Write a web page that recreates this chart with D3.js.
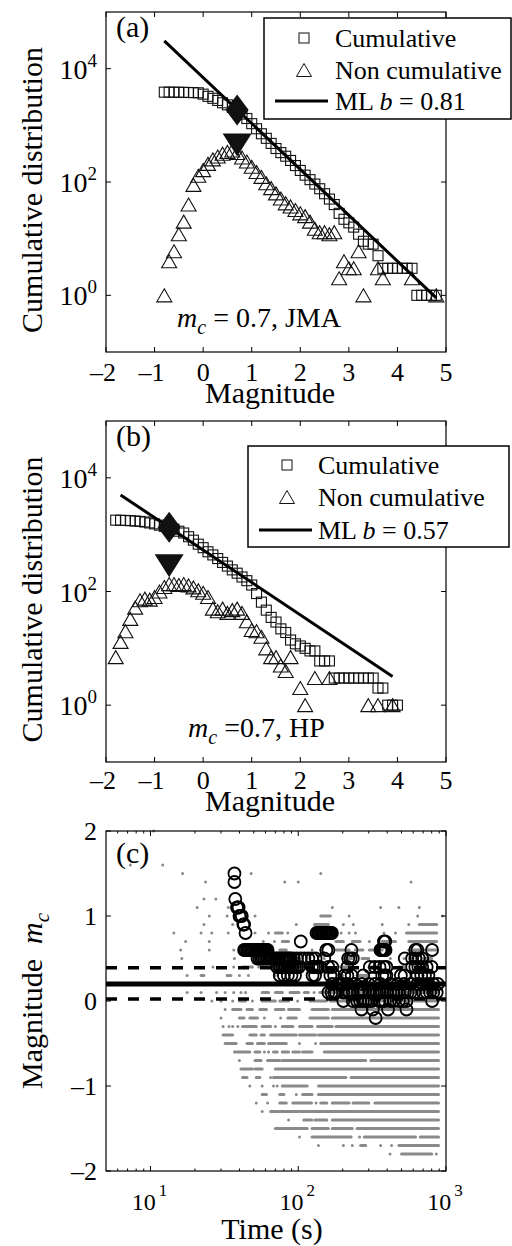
<!DOCTYPE html>
<html><head><meta charset="utf-8">
<script src="https://cdn.jsdelivr.net/npm/d3@7"></script>
<style>
body{margin:0;background:#fff}
svg{display:block}
</style>
</head><body><svg id="fig" width="512" height="1246" font-family="Liberation Serif, Times New Roman, Tinos, DejaVu Serif, serif"></svg>
<script>
// ---------------- DATA ----------------
// Panel (a) JMA: magnitude bins, cumulative counts
const cumA = [[-0.8,3850],[-0.7,3850],[-0.6,3840],[-0.5,3830],[-0.4,3820],[-0.3,3800],[-0.2,3780],[-0.1,3750],[0.0,3550],[0.1,3250],[0.2,3000],[0.3,2750],[0.4,2500],[0.5,2300],[0.6,2080],[0.7,1870],[0.8,1580],[0.9,1320],[1.0,1070],[1.1,870],[1.2,710],[1.3,590],[1.4,480],[1.5,390],[1.6,330],[1.7,285],[1.8,240],[1.9,195],[2.0,160],[2.1,132],[2.2,110],[2.3,92],[2.4,76],[2.5,62],[2.6,50],[2.7,40],[2.8,28],[2.9,22],[3.0,19],[3.1,16],[3.2,12],[3.3,9],[3.4,8],[3.5,8],[3.6,5],[3.7,3],[3.8,3],[3.9,3],[4.0,3],[4.1,3],[4.2,3],[4.3,3],[4.4,1],[4.5,1],[4.6,1],[4.7,1],[4.8,1]];
// Panel (a) non-cumulative counts
const nonA = [[-0.8,1],[-0.7,4],[-0.6,6],[-0.5,12],[-0.4,20],[-0.3,40],[-0.2,89],[-0.1,129],[0.0,162],[0.1,209],[0.2,251],[0.3,282],[0.4,316],[0.5,339],[0.6,360],[0.7,324],[0.8,270],[0.9,230],[1.0,186],[1.1,150],[1.2,123],[1.3,95],[1.4,78],[1.5,63],[1.6,51],[1.7,42],[1.8,37],[1.9,32],[2.0,28],[2.1,25],[2.2,20],[2.3,15],[2.4,13],[2.5,13],[2.6,12],[2.7,13],[2.8,2],[2.9,4],[3.0,3],[3.1,3],[3.2,6],[3.3,1],[3.6,3],[3.7,2],[4.3,2],[4.8,1]];
const mlLineA = [[-0.8,31000],[4.8,0.9]];
const mcMarkA = [0.7,1870];
const peakMarkA = [0.7,450];
const bValueA = "0.81";

// Panel (b) HP
const cumB = [[-1.8,1800],[-1.7,1790],[-1.6,1780],[-1.5,1760],[-1.4,1740],[-1.3,1710],[-1.2,1670],[-1.1,1610],[-1.0,1550],[-0.9,1470],[-0.8,1400],[-0.7,1340],[-0.6,1250],[-0.5,1150],[-0.4,1070],[-0.3,920],[-0.2,800],[-0.1,680],[0.0,590],[0.1,500],[0.2,440],[0.3,380],[0.4,325],[0.5,280],[0.6,240],[0.7,210],[0.8,180],[0.9,155],[1.0,130],[1.1,92],[1.2,65],[1.3,47],[1.4,35],[1.5,29],[1.6,22],[1.7,19],[1.8,14],[1.9,12],[2.0,11],[2.1,10],[2.2,9],[2.3,9],[2.4,6],[2.5,6],[2.6,6],[2.7,3],[2.8,3],[2.9,3],[3.0,3],[3.1,3],[3.2,3],[3.3,3],[3.4,3],[3.5,3],[3.6,2],[3.7,2],[3.8,1],[3.9,1],[4.0,1]];
const nonB = [[-1.8,7],[-1.7,13],[-1.6,20],[-1.5,33],[-1.4,52],[-1.3,70],[-1.2,75],[-1.1,72],[-1.0,80],[-0.9,100],[-0.8,120],[-0.7,135],[-0.6,135],[-0.5,130],[-0.4,135],[-0.3,128],[-0.2,118],[-0.1,105],[0.0,95],[0.1,80],[0.2,50],[0.3,45],[0.4,50],[0.5,42],[0.6,47],[0.7,50],[0.8,42],[0.9,30],[1.0,21],[1.1,20],[1.2,16],[1.3,10],[1.4,7],[1.5,7],[1.6,5],[1.7,4],[1.8,7],[2.0,2],[2.1,1],[2.3,3],[2.6,3],[3.4,1],[3.6,1],[3.9,1]];
const mlLineB = [[-1.7,5000],[3.9,3.2]];
const mcMarkB = [-0.7,1350];
const peakMarkB = [-0.7,285];
const bValueB = "0.57";

// axis ticks
const magTicks = [-2,-1,0,1,2,3,4,5];
const magTickLabels = ["\u20132","\u20131","0","1","2","3","4","5"];
const countTicks = [1,100,10000];
const countTickExp = ["0","2","4"];
const mcTicks = [-2,-1,0,1,2];
const mcTickLabels = ["\u20132","\u20131","0","1","2"];
const timeTicks = [10,100,1000];
const timeTickExp = ["1","2","3"];
const timeMinor = [6,7,8,9,20,30,40,50,60,70,80,90,200,300,400,500,600,700,800,900];

// Panel (c): grey events [magnitude, t0 (s), t1 (s) for a dense run]
const greyEvents = [
[2.0,10.5],
[1.6,7.3],[1.6,12.1],
[1.5,16.5],[1.5,48],[1.5,142],
[1.4,23.6],[1.4,81],[1.4,100],[1.4,580],
[1.2,23],[1.2,27.7],
[1.1,20.7],[1.1,33.6],[1.1,170],[1.1,361],[1.1,480],[1.1,660],
[1.0,25],[1.0,33],[1.0,37],[1.0,51],[1.0,142,165],[1.0,221],[1.0,643],[1.0,950],
[0.9,23],[0.9,36],[0.9,97],[0.9,129,160],[0.9,202],[0.9,236],[0.9,370],[0.9,560],[0.9,660,865],
[0.8,14.4],[0.8,22],[0.8,26],[0.8,33.6],[0.8,51],[0.8,63],[0.8,70,78],[0.8,85],[0.8,170],[0.8,195],[0.8,221],[0.8,244],[0.8,380],[0.8,455],[0.8,540,865],
[0.7,17.3],[0.7,25],[0.7,58],[0.7,69],[0.7,78,86],[0.7,180,202],[0.7,232,262],[0.7,303],[0.7,370,455],[0.7,560,865],
[0.6,16],[0.6,25],[0.6,36.6],[0.6,63,66],[0.6,75,83],[0.6,124],[0.6,142],[0.6,180,221],[0.6,244,274],[0.6,303,370],[0.6,560,865],
[0.5,16.3],[0.5,37],[0.5,102],[0.5,150],[0.5,200,230],[0.5,270,300],[0.5,420],[0.5,520],[0.5,600],[0.5,700,800],
[0.4,26.5],[0.4,36.6],[0.4,42,49],[0.4,54,58],[0.4,66],[0.4,100,120],[0.4,190,230],[0.4,300,330],[0.4,480,520],
[0.3,17.7],[0.3,22,23],[0.3,33,35],[0.3,40],[0.3,46],[0.3,70],[0.3,200],[0.3,250,300],[0.3,700],
[0.2,14],[0.2,20],[0.2,30],[0.2,60,70],[0.2,100,900],
[0.1,17.7],[0.1,22],[0.1,28],[0.1,32],[0.1,36.6],[0.1,41],[0.1,44],[0.1,57,63],[0.1,70,78],[0.1,88,101],[0.1,110,117],[0.1,128],[0.1,140,890],
[0.0,26],[0.0,30],[0.0,36],[0.0,40,44],[0.0,49],[0.0,57,70],[0.0,75,86],[0.0,99],[0.0,120,155],[0.0,165,890],
[-0.1,32],[-0.1,36,41],[-0.1,45,49],[-0.1,55,61],[-0.1,70,80],[-0.1,86,102],[-0.1,124,160],[-0.1,170,890],
[-0.2,30],[-0.2,40,43],[-0.2,47,53],[-0.2,59],[-0.2,76],[-0.2,85,97],[-0.2,120,160],[-0.2,170,890],
[-0.3,31],[-0.3,34],[-0.3,36],[-0.3,39],[-0.3,42,52],[-0.3,57,65],[-0.3,70],[-0.3,78,92],[-0.3,102,124],[-0.3,135,170],[-0.3,180,890],
[-0.4,31,36],[-0.4,47,52],[-0.4,56,59],[-0.4,65,97],[-0.4,102,131],[-0.4,137,890],
[-0.5,32,38],[-0.5,45,49],[-0.5,53,59],[-0.5,63,83],[-0.5,102],[-0.5,131],[-0.5,142,890],
[-0.6,37,47],[-0.6,51,55],[-0.6,59],[-0.6,63],[-0.6,68,72],[-0.6,78,86],[-0.6,92,102],[-0.6,107,124],[-0.6,150,890],
[-0.7,40],[-0.7,51,56],[-0.7,62,75],[-0.7,78,286],[-0.7,310,890],
[-0.8,41,49],[-0.8,51,57],[-0.8,70,890],
[-0.9,42,45],[-0.9,52,55],[-0.9,65],[-0.9,68,210],[-0.9,228,890],
[-1.0,47],[-1.0,57],[-1.0,68],[-1.0,72],[-1.0,78,115],[-1.0,137,890],
[-1.1,57,61],[-1.1,75,80],[-1.1,97],[-1.1,107,124],[-1.1,137,890],
[-1.2,52],[-1.2,62],[-1.2,75,83],[-1.2,92,123],[-1.2,132],[-1.2,142,156],[-1.2,170,221],[-1.2,235,300],[-1.2,330,890],
[-1.3,57],[-1.3,65,890],
[-1.4,86],[-1.4,109,124],[-1.4,130,156],[-1.4,170,890],
[-1.5,70,115],[-1.5,124,160],[-1.5,170,232],[-1.5,250,890],
[-1.6,102],[-1.6,124,228],[-1.6,260],[-1.6,280,622],[-1.6,670,890],
[-1.7,137],[-1.7,202],[-1.7,232],[-1.7,264,286],[-1.7,361],[-1.7,428],[-1.7,480,890],
[-1.8,418],[-1.8,500,800],[-1.8,860]
];
// Panel (c): m_c estimates [time (s), m_c]
const mcEstimates = [
[37,1.5],[37,1.4],[37.5,1.2],[38.5,1.1],[39,1.1],[39.5,1.1],[40,1.0],[40.5,1.0],[41.5,1.0],[42.5,0.9],[43,0.9],[44,0.8],
[43,0.6],[44,0.6],[45,0.6],[46,0.6],[47,0.6],[48,0.6],[49,0.6],[50,0.6],[51,0.6],[52,0.6],[53,0.6],[54,0.6],[55,0.6],[56,0.6],[57,0.6],[58,0.6],[59,0.6],[60,0.6],[61,0.6],[62,0.6],
[53,0.5],[54.5,0.5],[56,0.5],[57.5,0.5],[59,0.5],[60.5,0.5],[62,0.5],[63.5,0.5],[65,0.5],[67,0.5],[69,0.5],[71,0.5],[73,0.5],[75,0.5],[77,0.5],[79,0.5],[81,0.5],[83,0.5],[85,0.5],[87,0.5],[89,0.5],[93,0.5],[98,0.5],[104,0.5],[110,0.5],[117,0.5],[124,0.5],[131,0.5],
[72,0.4],[74,0.4],[76,0.4],[78,0.4],[80,0.4],[82,0.4],[84,0.4],[86,0.4],[88,0.4],[90,0.4],[92,0.4],[95,0.4],[98,0.4],[101,0.4],[124,0.4],[128,0.4],[132,0.4],[136,0.4],[140,0.4],[160,0.4],[170,0.4],[215,0.4],[305,0.4],[330,0.4],[355,0.4],[380,0.4],[395,0.4],[590,0.4],[620,0.4],[650,0.4],[690,0.4],[740,0.4],[800,0.4],
[75,0.3],[80,0.3],[85,0.3],[90,0.3],[95,0.3],[125,0.3],[130,0.3],[165,0.3],[175,0.3],[205,0.3],[215,0.3],[230,0.3],[275,0.3],[370,0.3],[385,0.3],[395,0.3],[495,0.3],[525,0.3],[640,0.3],[680,0.3],[720,0.3],[760,0.3],
[133,0.8],[136,0.8],[139,0.8],[142,0.8],[145,0.8],[148,0.8],[151,0.8],[154,0.8],[157,0.8],[160,0.8],[163,0.8],[166,0.8],[169,0.8],
[104,0.7],[380,0.7],[388,0.7],
[155,0.6],[160,0.6],[229,0.6],[360,0.6],[365,0.6],[370,0.6],[375,0.6],[380,0.6],[385,0.6],[390,0.6],[620,0.6],[640,0.6],[805,0.6],
[150,0.5],[218,0.5],[226,0.5],[234,0.5],[526,0.5],[590,0.5],[620,0.5],[655,0.5],[690,0.5],
[170,0.2],[185,0.2],[200,0.2],[215,0.2],[240,0.2],[270,0.2],[300,0.2],[330,0.2],[360,0.2],[420,0.2],[470,0.2],[520,0.2],[580,0.2],[640,0.2],[700,0.2],[760,0.2],[820,0.2],[880,0.2],
[160,0.1],[168,0.1],[175,0.1],[180,0.1],[202,0.1],[212,0.1],[222,0.1],[234,0.1],[254,0.1],[264,0.1],[274,0.1],[303,0.1],[320,0.1],[340,0.1],[355,0.1],[370,0.1],[397,0.1],[420,0.1],[440,0.1],[460,0.1],[480,0.1],[526,0.1],[550,0.1],[575,0.1],[610,0.1],[700,0.1],[740,0.1],[780,0.1],[820,0.1],[865,0.1],
[202,0.0],[234,0.0],[250,0.0],[262,0.0],[274,0.0],[286,0.0],[300,0.0],[315,0.0],[353,0.0],[370,0.0],[386,0.0],[418,0.0],[442,0.0],[480,0.0],[510,0.0],[540,0.0],[805,0.0],
[268,-0.1],[320,-0.1],[405,-0.1],[540,-0.1],
[334,-0.2]
];
const mcMean = 0.2;
const mcBand = [0.39, 0.025];

// ---------------- DRAW ----------------
const svg = d3.select("#fig");
const TICK = 5;

function box(g, x0, x1, y0, y1){
  g.append("rect").attr("x",x0).attr("y",y0).attr("width",x1-x0).attr("height",y1-y0)
   .attr("fill","none").attr("stroke","#000").attr("stroke-width",1.2);
}

function triPath(w,h,down){
  const s = down ? -1 : 1;
  return `M0,${-s*h/2}L${w/2},${s*h/2}L${-w/2},${s*h/2}Z`;
}

function gr(panel){
  const {x, y, top, bottom, cum, non, ml, mcMark, peakMark, bval, label, note, legend, xlabBase, tickBase} = panel;
  const g = svg.append("g");
  const L = x.range()[0], R = x.range()[1];
  // ticks
  magTicks.forEach((t,i)=>{
    const px = x(t);
    g.append("line").attr("x1",px).attr("x2",px).attr("y1",bottom).attr("y2",bottom-TICK).attr("stroke","#000");
    g.append("line").attr("x1",px).attr("x2",px).attr("y1",top).attr("y2",top+TICK).attr("stroke","#000");
    g.append("text").attr("x",px - (t<0?3:0)).attr("y",tickBase).attr("text-anchor","middle")
      .attr("font-size",26).text(magTickLabels[i]);
  });
  countTicks.forEach((t,i)=>{
    const py = y(t);
    g.append("line").attr("x1",L).attr("x2",L+TICK).attr("y1",py).attr("y2",py).attr("stroke","#000");
    g.append("line").attr("x1",R).attr("x2",R-TICK).attr("y1",py).attr("y2",py).attr("stroke","#000");
    const tx = g.append("text").attr("x",97).attr("y",py+10).attr("text-anchor","end").attr("font-size",28);
    tx.append("tspan").text("10");
    tx.append("tspan").attr("dy",-12).attr("font-size",19).text(countTickExp[i]);
  });
  box(g, L, R, top, bottom);

  // data
  const clip = "clip"+label;
  svg.append("clipPath").attr("id",clip).append("rect").attr("x",L).attr("y",top).attr("width",R-L).attr("height",bottom-top);
  const d = g.append("g").attr("clip-path",`url(#${clip})`);
  d.selectAll(".sq").data(cum).join("rect")
    .attr("x",p=>x(p[0])-5).attr("y",p=>y(p[1])-5).attr("width",10).attr("height",10)
    .attr("fill","none").attr("stroke","#111").attr("stroke-width",1.1);
  d.selectAll(".tr").data(non).join("path")
    .attr("d",triPath(15,13,false)).attr("transform",p=>`translate(${x(p[0])},${y(p[1])})`)
    .attr("fill","none").attr("stroke","#111").attr("stroke-width",1.1);
  d.append("path").datum(ml).attr("d",d3.line().x(p=>x(p[0])).y(p=>y(p[1])))
    .attr("stroke","#000").attr("stroke-width",3).attr("fill","none");
  d.append("path").attr("d","M0,-15.5L11.5,0L0,15.5L-11.5,0Z")
    .attr("transform",`translate(${x(mcMark[0])},${y(mcMark[1])})`).attr("fill","#111");
  d.append("path").attr("d",triPath(29,23,true))
    .attr("transform",`translate(${x(peakMark[0])},${y(peakMark[1])})`).attr("fill","#111");

  // panel label
  g.append("text").attr("x",116).attr("y",top+25).attr("font-size",30).text(`(${label})`);
  // note
  const nt = g.append("text").attr("x",note.x).attr("y",note.y).attr("font-size",28);
  nt.append("tspan").attr("font-style","italic").text("m");
  nt.append("tspan").attr("font-style","italic").attr("font-size",20).attr("dy",7).text("c");
  nt.append("tspan").attr("dy",-7).text(note.text);

  // legend
  const lg = legend;
  g.append("rect").attr("x",lg.x0).attr("y",lg.y0).attr("width",lg.x1-lg.x0).attr("height",lg.y1-lg.y0)
    .attr("fill","#fff").attr("stroke","#000").attr("stroke-width",1.5);
  g.append("rect").attr("x",lg.mx-5).attr("y",lg.r1-5).attr("width",10).attr("height",10)
    .attr("fill","none").attr("stroke","#111");
  g.append("path").attr("d",triPath(15,13,false)).attr("transform",`translate(${lg.mx},${lg.r2})`)
    .attr("fill","none").attr("stroke","#111");
  g.append("line").attr("x1",lg.lx0).attr("x2",lg.lx1).attr("y1",lg.r3).attr("y2",lg.r3)
    .attr("stroke","#000").attr("stroke-width",3);
  g.append("text").attr("x",lg.tx).attr("y",lg.r1+9).attr("font-size",26).text("Cumulative");
  g.append("text").attr("x",lg.tx).attr("y",lg.r2+9).attr("font-size",26).text("Non cumulative");
  const mt = g.append("text").attr("x",lg.tx).attr("y",lg.r3+9).attr("font-size",26);
  mt.append("tspan").text("ML ");
  mt.append("tspan").attr("font-style","italic").text("b");
  mt.append("tspan").text(" = "+bval);

  // axis labels
  g.append("text").attr("x",270).attr("y",xlabBase).attr("text-anchor","middle").attr("font-size",30).text("Magnitude");
  g.append("text").attr("transform",`translate(42,${(top+bottom)/2+8}) rotate(-90)`)
    .attr("text-anchor","middle").attr("font-size",30).text("Cumulative distribution");
}

// Panel (a)
gr({
  x: d3.scaleLinear([-2,5],[106,446]),
  y: d3.scaleLog([0.1,1e5],[352,12]),
  top:12, bottom:352, cum:cumA, non:nonA, ml:mlLineA, mcMark:mcMarkA, peakMark:peakMarkA, bval:bValueA,
  label:"a", note:{x:177,y:327,text:" = 0.7, JMA"},
  legend:{x0:264,x1:511,y0:18,y1:119,mx:304,r1:38,r2:70,r3:101,lx0:275,lx1:328,tx:335},
  xlabBase:403, tickBase:381
});
// Panel (b)
gr({
  x: d3.scaleLinear([-2,5],[106,446]),
  y: d3.scaleLog([0.1,1e5],[762,421]),
  top:421, bottom:762, cum:cumB, non:nonB, ml:mlLineB, mcMark:mcMarkB, peakMark:peakMarkB, bval:bValueB,
  label:"b", note:{x:188,y:737,text:" =0.7, HP"},
  legend:{x0:248,x1:509,y0:446,y1:547,mx:287,r1:465,r2:497,r3:530,lx0:259,lx1:312,tx:318},
  xlabBase:811, tickBase:789
});

// Panel (c)
(function(){
  const x = d3.scaleLog([5,1000],[106,446]);
  const y = d3.scaleLinear([-2,2],[1171,831]);
  const top=831, bottom=1171, L=106, R=446;
  const g = svg.append("g");
  svg.append("clipPath").attr("id","clipc").append("rect").attr("x",L).attr("y",top-3).attr("width",R-L).attr("height",bottom-top+3);
  const d = g.append("g").attr("clip-path","url(#clipc)");
  const grey = "#8a8a8a";
  d.selectAll(".run").data(greyEvents.filter(e=>e.length===3)).join("line")
    .attr("x1",e=>x(e[1])).attr("x2",e=>x(e[2])).attr("y1",e=>y(e[0])).attr("y2",e=>y(e[0]))
    .attr("stroke",grey).attr("stroke-width",3).attr("stroke-linecap","round");
  d.selectAll(".dot").data(greyEvents.filter(e=>e.length===2)).join("circle")
    .attr("cx",e=>x(e[1])).attr("cy",e=>y(e[0])).attr("r",1.5).attr("fill",grey);
  // mean and band
  d.append("line").attr("x1",L).attr("x2",R).attr("y1",y(mcMean)).attr("y2",y(mcMean))
    .attr("stroke","#000").attr("stroke-width",5);
  mcBand.forEach(v=>{
    d.append("line").attr("x1",L).attr("x2",R).attr("y1",y(v)).attr("y2",y(v))
      .attr("stroke","#000").attr("stroke-width",3.5).attr("stroke-dasharray","11,11");
  });
  d.selectAll(".mc").data(mcEstimates).join("circle")
    .attr("cx",e=>x(e[0])).attr("cy",e=>y(e[1])).attr("r",6)
    .attr("fill","none").attr("stroke","#000").attr("stroke-width",1.8);
  // ticks
  mcTicks.forEach((t,i)=>{
    const py = y(t);
    g.append("line").attr("x1",L).attr("x2",L+TICK).attr("y1",py).attr("y2",py).attr("stroke","#000");
    g.append("line").attr("x1",R).attr("x2",R-TICK).attr("y1",py).attr("y2",py).attr("stroke","#000");
    g.append("text").attr("x",97).attr("y",py+9).attr("text-anchor","end").attr("font-size",26).text(mcTickLabels[i]);
  });
  timeTicks.forEach((t,i)=>{
    const px = x(t);
    g.append("line").attr("x1",px).attr("x2",px).attr("y1",bottom).attr("y2",bottom-TICK).attr("stroke","#000");
    g.append("line").attr("x1",px).attr("x2",px).attr("y1",top).attr("y2",top+TICK).attr("stroke","#000");
    const tx = g.append("text").attr("x",px-1).attr("y",1210).attr("text-anchor","middle").attr("font-size",24);
    tx.append("tspan").text("10");
    tx.append("tspan").attr("dy",-14).attr("font-size",17).attr("dx",3).text(timeTickExp[i]);
  });
  timeMinor.forEach(t=>{
    const px = x(t);
    g.append("line").attr("x1",px).attr("x2",px).attr("y1",bottom).attr("y2",bottom-2.5).attr("stroke","#000");
    g.append("line").attr("x1",px).attr("x2",px).attr("y1",top).attr("y2",top+2.5).attr("stroke","#000");
  });
  box(g, L, R, top, bottom);
  g.append("text").attr("x",116).attr("y",top+32).attr("font-size",30).text("(c)");
  g.append("text").attr("x",272).attr("y",1239).attr("text-anchor","middle").attr("font-size",30).text("Time (s)");
  const yl = g.append("text").attr("transform",`translate(42,1001) rotate(-90)`).attr("text-anchor","middle").attr("font-size",30);
  yl.append("tspan").text("Magnitude\u00a0\u00a0");
  yl.append("tspan").attr("font-style","italic").text("m");
  yl.append("tspan").attr("font-style","italic").attr("font-size",21).attr("dy",7).text("c");
})();
</script></body></html>
